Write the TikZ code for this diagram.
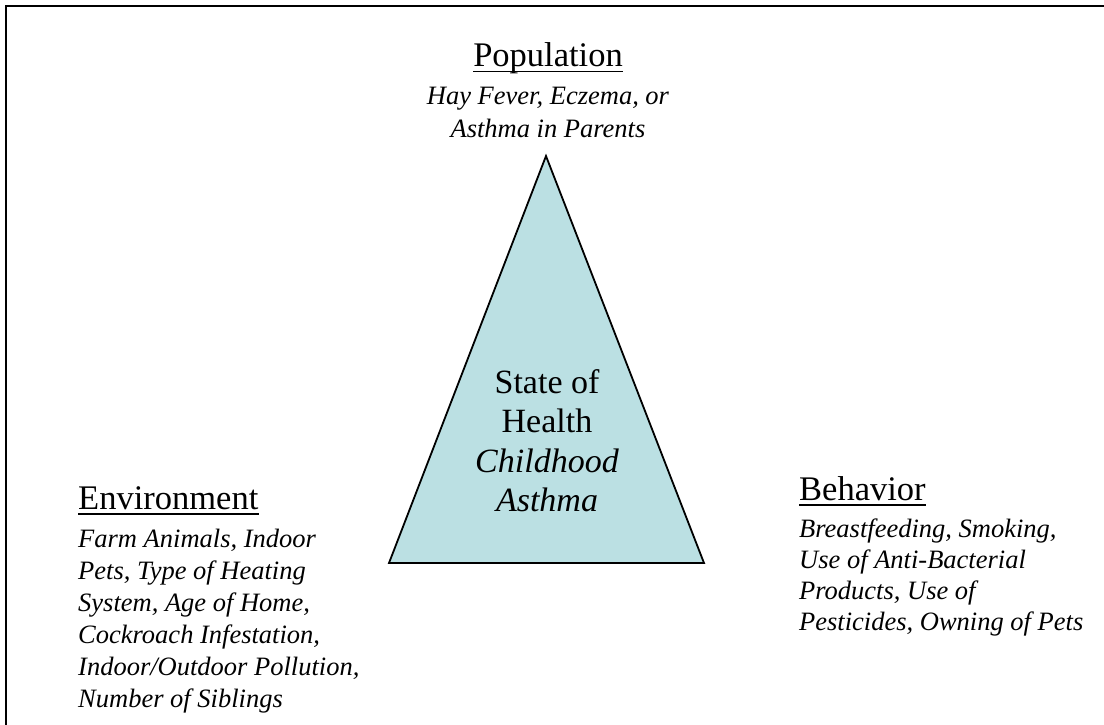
\documentclass[tikz,border=0pt]{standalone}
\usepackage{fontspec}
\setmainfont{Liberation Serif}
\definecolor{triFill}{HTML}{BBE0E3}
\begin{document}
\begin{tikzpicture}[x=1pt,y=-1pt,
  heading/.style={font=\fontsize{34.5}{40}\selectfont, inner sep=0pt},
  item/.style={font=\fontsize{26.5}{32}\selectfont\itshape, inner sep=0pt},
  core/.style={font=\fontsize{34}{40}\selectfont, inner sep=0pt},
  uline/.style={line width=1.8pt},
  frame/.style={line width=2pt},
  triangle/.style={line width=1.8pt, fill=triFill, line join=miter}]
\useasboundingbox (0,0) rectangle (1104,724);

% outer frame, running off the right and bottom edges
\begin{scope}
  \clip (0,0) rectangle (1104,724);
  \draw[frame] (6,6) rectangle (1130,750);
\end{scope}

% central triangle
\coordinate (apex) at (546,156);
\coordinate (baseL) at (389,563);
\coordinate (baseR) at (704,563);
\draw[triangle] (apex) -- (baseL) -- (baseR) -- cycle;

% text inside the triangle
\node[core, anchor=base] (soh1) at (547,393) {State of};
\node[core, anchor=base] (soh2) at (547,432) {Health};
\node[core, anchor=base] (soh3) at (547,472) {\itshape Childhood};
\node[core, anchor=base] (soh4) at (547,511) {\itshape Asthma};

% Population
\node[heading, anchor=base] (pop) at (548,66) {Population};
\draw[uline] ([yshift=-5.5pt]pop.base west) -- ([yshift=-5.5pt]pop.base east);
\node[item, anchor=base] (pop1) at (548,104) {Hay Fever, Eczema, or};
\node[item, anchor=base] (pop2) at (548,137) {Asthma in Parents};

% Environment
\node[heading, anchor=base west] (env) at (78,509) {Environment};
\draw[uline] ([yshift=-5pt]env.base west) -- ([yshift=-5pt]env.base east);
\foreach \t [count=\i] in {{Farm Animals, Indoor}, {Pets, Type of Heating},
    {System, Age of Home,}, {Cockroach Infestation,},
    {Indoor/Outdoor Pollution,}, {Number of Siblings}}
  \node[item, anchor=base west] (env\i) at (78,{515+32*\i}) {\t};

% Behavior
\node[heading, anchor=base west] (beh) at (799,500) {Behavior};
\draw[uline] ([yshift=-5pt]beh.base west) -- ([yshift=-5pt]beh.base east);
\foreach \t [count=\i] in {{Breastfeeding, Smoking,}, {Use of Anti-Bacterial},
    {Products, Use of}, {Pesticides, Owning of Pets}}
  \node[item, anchor=base west] (beh\i) at (799,{506+31*\i}) {\t};
\end{tikzpicture}
\end{document}
